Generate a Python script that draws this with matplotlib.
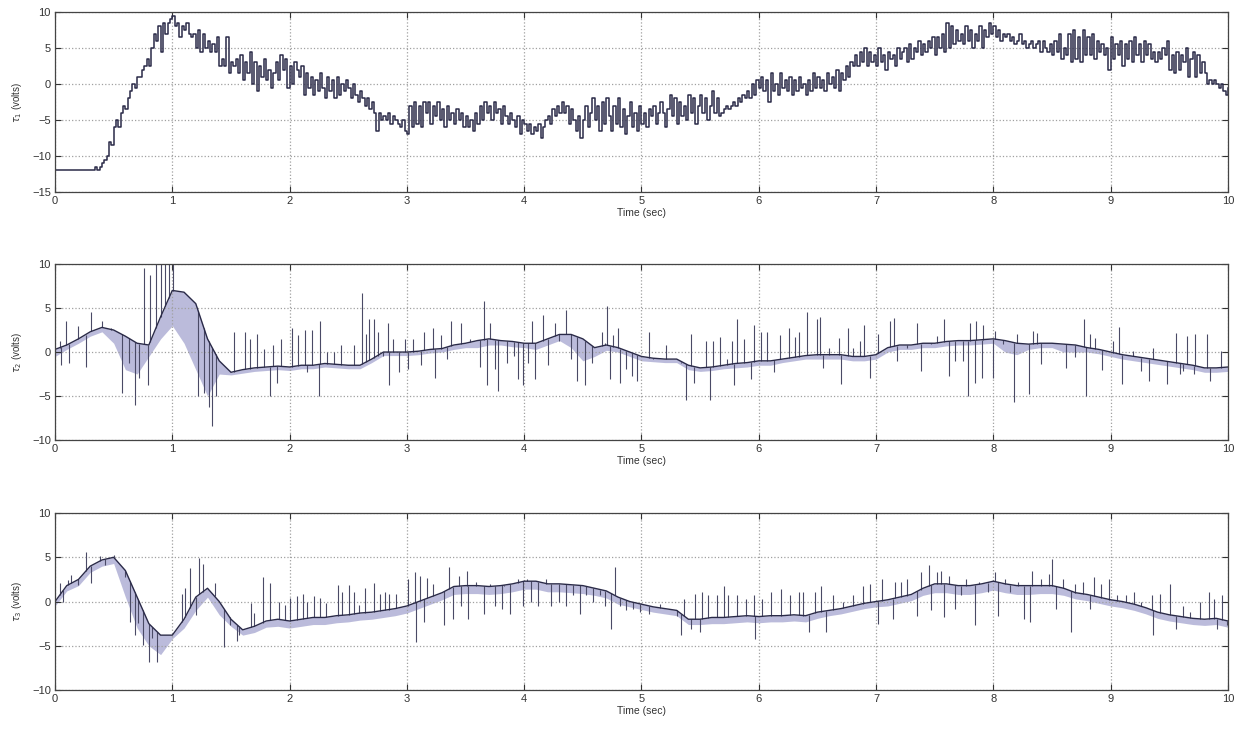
import numpy as np
import matplotlib
matplotlib.use("Agg")
import matplotlib.pyplot as plt

plt.rcParams['font.family'] = ['Liberation Sans', 'DejaVu Sans']

# ---- tau1 : held (step) signal, one value every 0.02 s
t1 = np.arange(501) * 0.02
tau1 = np.array([
    -12, -12, -12, -12, -12, -12, -12, -12, -12, -12, -12, -12, -12, -12, -12, -12, -12, -11.5, -12, -11.5, -11, -10.5, -10, -8, -8.5,
    -6, -5, -6, -4, -3, -3.5, -2, -1, 0, -0.5, 1, 1, 2, 2.5, 3.5, 2.5, 5, 7, 6, 8, 4.5, 8.5, 7, 8.5, 9,
    9.5, 8, 8.5, 6.5, 8, 7.5, 8.5, 7, 6.5, 7, 5, 7.5, 4.5, 7, 5, 6, 4.5, 5.5, 4.5, 6.5, 2.5, 3.5, 2.5, 6.5, 1.5,
    3, 2.5, 3.5, 1.5, 4, 0.5, 3, 1.5, 4.5, 0, 3, -1, 2.5, 1, 3.5, 0.5, 2, -0.5, 1.5, 3, 0.5, 4, 2, 3.5, -0.5,
    2.5, 0, 3, 2, 1, 2.5, -1.5, 1.5, -0.5, 1, -1.5, 0.5, -1, 1.5, -0.5, -2, 1, -1, 0.5, -2, 1, -1.5, 0, -1, 0.5,
    -0.5, -2, 0, -1.5, -2.5, -1, -2, -3, -2, -3.5, -2.5, -4, -6.5, -4, -5, -4.5, -5, -4, -5.5, -4.5, -5, -5.5, -6, -5, -6.5,
    -7, -3, -6, -2.5, -5.5, -3, -6, -2.5, -4, -2.5, -5.5, -3, -4.5, -2.5, -5, -3.5, -6, -3, -5, -4, -5.5, -3.5, -5, -4, -6,
    -4.5, -6, -5, -6.5, -4, -5.5, -3, -5, -2.5, -4, -3, -5, -2.5, -4, -3.5, -5.5, -3, -4.5, -5.5, -4, -5, -6, -4.5, -7, -5,
    -5.5, -6.5, -5.5, -7, -6, -6.5, -5.5, -7.5, -6, -5, -4.5, -5.5, -3.5, -4.5, -3, -4, -2.5, -4, -3, -5.5, -3.5, -5, -6.5, -4.5, -7.5,
    -5, -3, -6, -4, -2, -5, -3, -6.5, -2.5, -5.5, -2, -4.5, -6.5, -3, -5.5, -2, -6, -3.5, -7, -4.5, -2.5, -6, -4, -6.5, -3,
    -5.5, -4, -6, -3.5, -4.5, -3, -5.5, -4, -2.5, -4, -6, -3.5, -1.5, -4.5, -2, -5.5, -2.5, -4.5, -3, -5, -1.5, -4, -2, -5.5, -3,
    -1.5, -4, -2, -5, -3, -1, -4, -2, -4.5, -4, -3.5, -3, -3.5, -3, -2.5, -3, -2, -2.5, -1.5, -2, -1, -2, 0, -1.5, 0.5,
    -0.5, 1, -1, 0.5, -2.5, 1.5, -1, 0, -1.5, 1.5, -0.5, 0.5, -1, 1, -1.5, 0.5, -1, 1, -0.5, 0, -1.5, 0.5, -1, 1.5, -0.5,
    1, -0.5, 0.5, -1, 1.5, 0, 1, -0.5, 2, -1, 1.5, 0.5, 2.5, 1, 3, 2.5, 4, 2.5, 4.5, 3, 5, 2.5, 4.5, 3, 4,
    2.5, 5, 3, 4, 2, 4.5, 3.5, 4, 2.5, 5, 3.5, 4.5, 5, 3, 5.5, 3.5, 5, 4.5, 6, 4, 5.5, 4.5, 6, 5, 6.5,
    4, 6.5, 5, 7, 4.5, 8.5, 5, 8, 5.5, 7.5, 6, 7, 5.5, 8, 6, 7.5, 5, 7, 6, 8, 5, 7.5, 6.5, 8.5, 7,
    8, 6.5, 7.5, 6, 7, 6.5, 7, 6, 6.5, 5.5, 6, 7, 5.5, 6, 5, 5.5, 6, 5, 5.5, 6, 4.5, 6, 5, 4.5, 5.5,
    4, 6, 4.5, 7, 3.5, 5, 4, 7, 3, 7.5, 3.5, 6.5, 3, 7.5, 4, 6.5, 4, 7, 3.5, 6, 4.5, 5.5, 4, 5, 2,
    6.5, 3.5, 5.5, 4, 6, 2.5, 5.5, 3.5, 6, 3, 6.5, 4, 5.5, 3, 6, 4, 5.5, 3.5, 4.5, 3, 4.5, 3.5, 5, 4, 6,
    2, 4, 1.5, 4.5, 2, 4, 3, 5, 1, 3.5, 4.5, 1, 4, 1.5, 3, 1.5, 0, 0.5, 0, 0.5, 0, -0.5, 0, -1, -1.5,
    -0.5,
])

# ---- tau2 : smooth part (every 0.1 s), lower edge of the dense band, spikes
tb = np.arange(101) * 0.1
tau2_base = np.array([
    0.3, 0.8, 1.5, 2.3, 2.8, 2.5, 1.8, 1.0, 0.8, 4.0,
    7.0, 6.8, 5.5, 1.5, -1.0, -2.3, -2.0, -1.8, -1.7, -1.6,
    -1.7, -1.5, -1.5, -1.3, -1.4, -1.5, -1.5, -0.8, 0.0, 0.0,
    0.0, 0.1, 0.3, 0.4, 0.8, 1.0, 1.3, 1.5, 1.3, 1.2,
    1.0, 1.0, 1.5, 2.0, 2.0, 1.5, 0.5, 0.8, 0.5, 0.0,
    -0.5, -0.7, -0.8, -0.8, -1.5, -1.8, -1.7, -1.5, -1.3, -1.2,
    -1.0, -1.0, -0.8, -0.6, -0.4, -0.3, -0.3, -0.3, -0.5, -0.5,
    -0.3, 0.5, 0.8, 0.8, 1.0, 1.0, 1.2, 1.3, 1.3, 1.4,
    1.5, 1.3, 1.0, 0.9, 1.0, 1.0, 0.9, 0.8, 0.5, 0.3,
    0.0, -0.3, -0.5, -0.7, -0.9, -1.1, -1.3, -1.5, -1.8, -1.8,
    -1.7,
])
tau2_lo = np.array([
    -0.5, 0.3, 1.0, 1.8, 2.3, 1.0, -2.0, -2.5, -0.5, 1.5,
    3.0, 1.0, -2.0, -5.0, -2.5, -2.6, -2.4, -2.2, -2.1, -2.0,
    -2.1, -1.9, -1.9, -1.7, -1.8, -1.9, -1.9, -1.2, -0.4, -0.4,
    -0.4, -0.3, -0.1, 0.0, 0.3, 0.5, 0.5, 0.8, 0.8, 0.6,
    0.5, 0.3, 0.8, 1.3, 0.5, -1.0, -0.5, 0.2, 0.0, -0.5,
    -1.0, -1.1, -1.2, -1.2, -2.0, -2.2, -2.1, -1.9, -1.8, -1.7,
    -1.5, -1.5, -1.2, -1.0, -0.8, -0.8, -0.8, -0.8, -1.0, -1.0,
    -0.8, 0.0, 0.3, 0.3, 0.5, 0.5, 0.7, 0.8, 0.8, 0.9,
    1.0, 0.0, -0.3, 0.3, 0.5, 0.5, 0.0, 0.0, 0.0, -0.2,
    -0.5, -0.8, -1.0, -1.2, -1.4, -1.6, -1.8, -2.0, -2.3, -2.3,
    -2.2,
])
tau2_spikes = [
    (0.04, 1.3), (0.05, -1.5), (0.09, 3.5), (0.12, -1.2), (0.20, 3.0), (0.26, -1.7), (0.31, 4.6),
    (0.40, 3.5), (0.48, 2.7), (0.57, -4.6), (0.63, -1.2), (0.68, -6.0), (0.72, -3.0), (0.76, 9.6),
    (0.79, -3.8), (0.81, 8.7), (0.86, 10.5), (0.90, 10.5), (0.94, 10.5), (0.97, 10.5), (1.01, 10.5),
    (1.22, -5.0), (1.27, -4.6), (1.31, -6.2), (1.34, -8.4), (1.37, -5.0),
    (1.53, 2.3), (1.62, 2.3), (1.66, 1.5), (1.72, 2.1), (1.78, 0.4), (1.83, -5.0), (1.86, 0.8),
    (1.89, -3.5), (1.93, 1.5), (2.02, 2.7), (2.07, 1.9), (2.13, 2.5), (2.15, -2.3), (2.19, 2.5),
    (2.25, -5.0), (2.26, 3.5), (2.32, 0.0), (2.38, 0.0), (2.44, 0.8), (2.55, 0.8), (2.62, 6.7),
    (2.65, 2.1), (2.68, 3.7), (2.72, 3.7), (2.75, 2.3), (2.80, -0.4), (2.84, 3.3), (2.85, -3.8),
    (2.88, 1.5), (2.93, -2.3), (2.98, 1.5), (3.01, -1.9),
    (3.05, 1.5), (3.12, -1.5), (3.15, 2.3), (3.22, 2.7), (3.24, -3.0), (3.29, 1.9), (3.34, -0.8),
    (3.38, 3.5), (3.46, 3.3), (3.54, 1.5), (3.62, -1.7), (3.66, 5.8), (3.68, -3.7), (3.71, 3.3),
    (3.75, -1.9), (3.78, -4.4), (3.85, -1.2), (3.91, -0.4), (3.95, -3.1), (3.99, -3.8), (4.03, -1.2),
    (4.07, 3.5), (4.09, -3.1), (4.16, 4.2), (4.20, -1.5), (4.26, 3.3), (4.30, 1.2), (4.36, 4.8),
    (4.40, -0.8), (4.45, -3.3), (4.52, -3.8), (4.58, -1.2), (4.66, 2.3), (4.69, 1.0), (4.71, 5.2),
    (4.73, -3.1), (4.76, 1.9), (4.80, 2.7), (4.82, -3.5), (4.87, -1.9), (4.92, -2.7), (4.96, -3.3),
    (5.06, 2.3), (5.10, -0.8), (5.21, 0.8), (5.24, -0.8), (5.34, -1.2), (5.38, -5.4), (5.42, 2.1),
    (5.45, -3.5), (5.55, 1.3), (5.58, -5.4), (5.61, 1.2), (5.67, 1.7), (5.73, -0.8), (5.77, 1.2),
    (5.79, -3.8), (5.81, 3.8), (5.87, 1.5), (5.93, -3.1), (5.96, 3.1), (6.02, 2.3), (6.07, 2.3),
    (6.13, -2.3), (6.18, 1.9), (6.26, 2.7), (6.31, 1.7), (6.34, 2.3), (6.41, 4.6), (6.50, 3.8),
    (6.52, 4.0), (6.55, -1.8), (6.60, 0.5), (6.68, 1.6), (6.70, -3.6), (6.76, 2.7), (6.80, 0.5),
    (6.86, 1.2), (6.90, 3.1), (6.95, -2.9), (7.02, 2.0), (7.12, 3.5), (7.15, 3.9), (7.18, -1.0),
    (7.26, 0.5), (7.35, 3.3), (7.38, -2.1), (7.47, 0.9), (7.52, 1.8), (7.58, 3.7), (7.62, -2.7),
    (7.67, -1.0), (7.74, -1.0), (7.78, -5.0), (7.80, 3.3), (7.84, -3.5), (7.85, 3.5), (7.90, -2.9),
    (7.91, 3.1), (8.00, -2.9), (8.01, 2.4), (8.08, 0.9), (8.18, -5.7), (8.20, 2.0), (8.30, -4.8),
    (8.34, 2.4), (8.37, 2.2), (8.41, -1.4), (8.62, -1.8), (8.70, -0.6), (8.77, 3.7), (8.79, -5.0),
    (8.82, 2.0), (8.87, 1.6), (8.93, -2.0), (9.02, 1.2), (9.07, 2.9), (9.10, -3.6), (9.19, 0.1),
    (9.26, -2.1), (9.33, -3.3), (9.36, 0.5), (9.48, -3.6), (9.56, 2.2), (9.59, -2.5), (9.62, -2.1),
    (9.65, 1.8), (9.71, -2.5), (9.72, 2.0), (9.82, 2.0), (9.85, -3.3), (9.94, 0.1),
]

# ---- tau3
tau3_base = np.array([
    0.0, 1.8, 2.5, 4.0, 4.7, 5.0, 3.5, 0.5, -2.5, -3.8,
    -3.8, -2.0, 0.5, 1.5, 0.0, -2.0, -3.2, -2.8, -2.2, -2.0,
    -2.2, -2.0, -1.8, -1.8, -1.6, -1.5, -1.3, -1.2, -1.0, -0.8,
    -0.5, 0.0, 0.5, 1.0, 1.7, 1.8, 1.8, 1.7, 1.8, 2.0,
    2.3, 2.3, 2.0, 2.0, 1.9, 1.8, 1.5, 1.2, 0.5, 0.0,
    -0.3, -0.6, -0.8, -1.0, -2.0, -2.0, -1.8, -1.8, -1.7, -1.6,
    -1.7, -1.6, -1.6, -1.5, -1.6, -1.2, -1.0, -0.8, -0.5, -0.2,
    0.0, 0.2, 0.5, 0.8, 1.5, 2.0, 2.0, 1.8, 1.8, 2.0,
    2.3, 2.0, 1.8, 1.8, 1.8, 1.8, 1.5, 1.0, 0.8, 0.5,
    0.2, 0.0, -0.3, -0.7, -1.2, -1.5, -1.7, -1.9, -2.0, -1.9,
    -2.2,
])
tau3_lo = np.array([
    -0.5, 1.2, 1.8, 3.3, 4.0, 4.3, 0.5, -3.0, -5.0, -6.0,
    -4.2, -3.0, -1.0, 0.5, -1.5, -2.8, -3.8, -3.5, -2.9, -2.8,
    -3.0, -2.8, -2.6, -2.6, -2.4, -2.3, -2.1, -2.0, -1.8, -1.6,
    -1.3, -0.8, -0.3, 0.2, 0.8, 0.9, 0.9, 0.8, 0.9, 1.1,
    1.4, 1.4, 1.1, 1.1, 1.0, 0.9, 0.7, 0.4, -0.3, -0.6,
    -0.9, -1.2, -1.4, -1.6, -2.6, -2.6, -2.5, -2.5, -2.4, -2.3,
    -2.4, -2.3, -2.3, -2.2, -2.3, -1.9, -1.6, -1.4, -1.1, -0.8,
    -0.6, -0.5, -0.2, 0.1, 0.7, 1.0, 1.0, 0.8, 0.8, 1.0,
    1.3, 1.0, 0.8, 0.8, 0.9, 0.9, 0.7, 0.3, 0.1, -0.2,
    -0.5, -0.7, -1.0, -1.4, -1.9, -2.2, -2.4, -2.6, -2.7, -2.6,
    -2.9,
])
tau3_spikes = [
    (0.04, 2.1), (0.07, 0.0), (0.11, 2.4), (0.14, 3.0), (0.20, 1.9), (0.26, 5.6), (0.31, 2.1),
    (0.38, 5.1), (0.43, 4.1), (0.50, 5.3), (0.60, 2.8), (0.64, -2.3), (0.68, -3.8), (0.71, -2.4),
    (0.75, -4.9), (0.80, -6.8), (0.83, -4.1), (0.87, -6.8), (1.08, 0.8), (1.11, 1.5), (1.15, 3.8),
    (1.20, -1.5), (1.23, 4.9), (1.26, 4.3), (1.36, 2.1), (1.44, -5.1), (1.49, -2.6), (1.55, -4.5),
    (1.57, -3.8), (1.67, -0.2), (1.70, -1.3), (1.77, 2.8), (1.83, 2.1), (1.91, 0.0), (1.96, -0.4),
    (2.00, 0.4), (2.06, 0.6), (2.11, 0.8), (2.15, 0.0), (2.21, 0.6), (2.26, 0.4), (2.31, -0.2),
    (2.41, 1.9), (2.45, 1.1), (2.51, 1.9), (2.55, 1.1), (2.59, -0.4), (2.64, 1.5), (2.72, 2.1),
    (2.77, 0.8), (2.81, 1.1), (2.85, 0.8), (2.91, 0.8), (3.01, 2.6), (3.07, 3.3), (3.08, -4.6),
    (3.11, 2.9), (3.15, -2.3), (3.17, 2.7), (3.22, 2.0), (3.25, 0.7), (3.32, -2.7), (3.36, 3.9),
    (3.39, -2.0), (3.44, 2.9), (3.46, -0.5), (3.51, 3.5), (3.52, -2.0), (3.59, 2.2), (3.66, -1.4),
    (3.71, 2.0), (3.75, -0.5), (3.81, -0.8), (3.83, 1.8), (3.88, -1.4), (3.95, 2.6), (3.99, -0.5),
    (4.02, 2.6), (4.06, -0.1), (4.12, -0.5), (4.19, 2.6), (4.23, -0.5), (4.30, -0.1), (4.36, -0.5),
    (4.42, 0.7), (4.48, -1.4), (4.53, 0.7), (4.59, -0.1), (4.65, 0.7), (4.69, -0.5), (4.74, -3.1),
    (4.77, 3.9), (4.82, -0.5), (4.87, -1.0), (4.93, -0.8), (4.99, -1.2), (5.06, -1.4), (5.16, -0.3),
    (5.22, -0.8), (5.30, -1.6), (5.34, -3.8), (5.36, 0.3), (5.42, -3.1), (5.46, 0.9), (5.50, -3.5),
    (5.52, 1.1), (5.57, 0.7), (5.64, 0.7), (5.70, 1.8), (5.74, 0.7), (5.81, 0.7), (5.89, 0.3),
    (5.96, 0.7), (5.97, -4.2), (6.03, 0.3), (6.10, 1.1), (6.19, 1.4), (6.27, 0.7), (6.34, 1.1),
    (6.38, 1.1), (6.43, -3.5), (6.48, 1.1), (6.53, 1.8), (6.57, -3.5), (6.63, 0.7), (6.72, -0.1),
    (6.80, 0.7), (6.89, 1.8), (6.95, 2.0), (7.02, -2.5), (7.05, 2.6), (7.14, -2.0), (7.16, 2.2),
    (7.21, 2.2), (7.26, 2.6), (7.35, -1.6), (7.38, 3.3), (7.45, 4.1), (7.47, -1.0), (7.52, 3.3),
    (7.55, 3.5), (7.58, -1.8), (7.62, 2.9), (7.67, -0.8), (7.72, 0.7), (7.77, 2.6), (7.84, -2.7),
    (7.88, 2.2), (7.95, 1.1), (8.01, 3.3), (8.04, -1.6), (8.10, 2.6), (8.14, 1.1), (8.21, 2.2),
    (8.26, -2.0), (8.31, -2.3), (8.33, 3.5), (8.41, 2.6), (8.47, 3.1), (8.50, 4.8), (8.53, -0.8),
    (8.59, 2.6), (8.66, -3.5), (8.70, 2.0), (8.76, 2.2), (8.82, -0.8), (8.86, 2.8), (8.92, 2.0),
    (8.99, 2.6), (9.05, 0.7), (9.13, 0.7), (9.20, 1.1), (9.26, -0.1), (9.35, 0.7), (9.36, -3.8),
    (9.42, 0.9), (9.51, 2.0), (9.56, -3.1), (9.62, -0.5), (9.68, -1.2), (9.76, -0.1), (9.84, 1.1),
    (9.88, 0.3), (9.91, -3.1), (9.95, 0.7), (9.99, -2.7),
]

line_col = '#2a2a48'
band_col = '#6a6ab0'


def style_axes(ax, ylim, ylab):
    ax.set_xlim(0, 10)
    ax.set_ylim(*ylim)
    ax.set_xticks(np.arange(0, 11, 1))
    ax.set_yticks(np.arange(ylim[0], ylim[1] + 1, 5))
    ax.grid(True, linestyle=':', color='#a0a0a0', linewidth=0.9)
    ax.tick_params(direction='in', length=4, labelsize=8, colors='#333333',
                   top=True, right=True, pad=3)
    for s in ax.spines.values():
        s.set_color('#444444')
        s.set_linewidth(0.9)
    ax.set_xlabel('Time (sec)', fontsize=7.5, labelpad=1, color='#333333')
    ax.set_ylabel(ylab, fontsize=7, labelpad=6, color='#333333')


fig = plt.figure(figsize=(12.42, 7.31), dpi=100)
left, width = 0.0443, 0.9444
ax1 = fig.add_axes([left, 0.7373, width, 0.2462])
ax2 = fig.add_axes([left, 0.3980, width, 0.2408])
ax3 = fig.add_axes([left, 0.0561, width, 0.2420])

ax1.plot(t1, tau1, drawstyle='steps-post', color=line_col, lw=1.1)
style_axes(ax1, (-15, 10), r'$\tau_1$ (volts)')

for ax, base, lo, spikes, lab in [
        (ax2, tau2_base, tau2_lo, tau2_spikes, r'$\tau_2$ (volts)'),
        (ax3, tau3_base, tau3_lo, tau3_spikes, r'$\tau_3$ (volts)')]:
    spk = np.array(spikes)
    foot = np.interp(spk[:, 0], tb, base)
    ax.fill_between(tb, lo, base, color=band_col, alpha=0.45, lw=0)
    ax.vlines(spk[:, 0], foot, spk[:, 1], color='#4a4a66', lw=0.8)
    ax.plot(tb, base, color=line_col, lw=1.0)
    style_axes(ax, (-10, 10), lab)

fig.savefig('out.png', dpi=100)
